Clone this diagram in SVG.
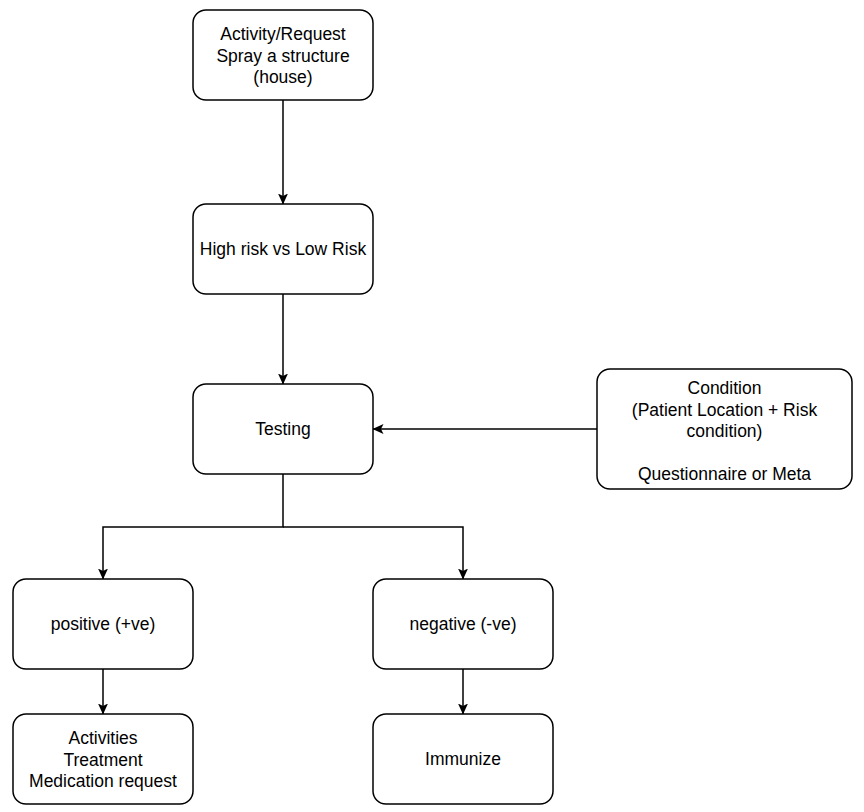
<svg xmlns="http://www.w3.org/2000/svg" width="864" height="812" viewBox="0 0 864 812">
<style>
.box{fill:#ffffff;stroke:#000000;stroke-width:1.5}
.lbl{font-family:"Liberation Sans",Arial,Helvetica,sans-serif;font-size:17.5px;fill:#000000;text-anchor:middle}
.edge{fill:none;stroke:#000000;stroke-width:1.5}
</style>
<defs>
<marker id="arr" viewBox="0 0 11 10" refX="10.5" refY="5" markerWidth="11" markerHeight="10" markerUnits="userSpaceOnUse" orient="auto">
<path d="M0,0 L11,5 L0,10 L2.5,5 Z" fill="#000000"/>
</marker>
</defs>
<rect width="864" height="812" fill="#ffffff"/>
<g id="connectors">
<path class="edge" d="M283,100 L283,204" marker-end="url(#arr)"/>
<path class="edge" d="M283,294 L283,384" marker-end="url(#arr)"/>
<path class="edge" d="M597,429 L373,429" marker-end="url(#arr)"/>
<path class="edge" d="M283,474 L283,527 L103,527 L103,579" marker-end="url(#arr)"/>
<path class="edge" d="M283,527 L463,527 L463,579" marker-end="url(#arr)"/>
<path class="edge" d="M103,669 L103,714" marker-end="url(#arr)"/>
<path class="edge" d="M463,669 L463,714" marker-end="url(#arr)"/>
</g>
<g id="activity">
<rect class="box" x="193" y="10" width="180" height="90" rx="13"/>
<text class="lbl" x="283" y="40">Activity/Request</text>
<text class="lbl" x="283" y="61.5">Spray a structure</text>
<text class="lbl" x="283" y="83">(house)</text>
</g>
<g id="risk">
<rect class="box" x="193" y="204" width="180" height="90" rx="13"/>
<text class="lbl" x="283" y="255">High risk vs Low Risk</text>
</g>
<g id="testing">
<rect class="box" x="193" y="384" width="180" height="90" rx="13"/>
<text class="lbl" x="283" y="435">Testing</text>
</g>
<g id="condition">
<rect class="box" x="597" y="369" width="255" height="120" rx="13"/>
<text class="lbl" x="724.5" y="394">Condition</text>
<text class="lbl" x="724.5" y="415.5">(Patient Location + Risk</text>
<text class="lbl" x="724.5" y="437">condition)</text>
<text class="lbl" x="724.5" y="480">Questionnaire or Meta</text>
</g>
<g id="positive">
<rect class="box" x="13" y="579" width="180" height="90" rx="13"/>
<text class="lbl" x="103" y="630">positive (+ve)</text>
</g>
<g id="negative">
<rect class="box" x="373" y="579" width="180" height="90" rx="13"/>
<text class="lbl" x="463" y="630">negative (-ve)</text>
</g>
<g id="activities">
<rect class="box" x="13" y="714" width="180" height="90" rx="13"/>
<text class="lbl" x="103" y="744">Activities</text>
<text class="lbl" x="103" y="765.5">Treatment</text>
<text class="lbl" x="103" y="787">Medication request</text>
</g>
<g id="immunize">
<rect class="box" x="373" y="714" width="180" height="90" rx="13"/>
<text class="lbl" x="463" y="765">Immunize</text>
</g>
</svg>
